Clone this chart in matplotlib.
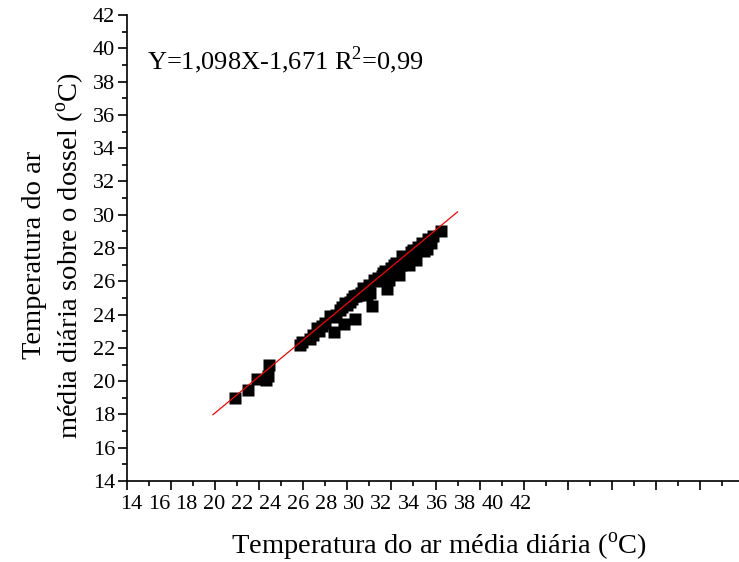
"""Air temperature over the canopy vs. daily mean air temperature."""

import matplotlib
matplotlib.use("Agg")
import matplotlib.pyplot as plt
import numpy as np

plt.rcParams["font.family"] = ["Liberation Serif", "DejaVu Serif"]
plt.rcParams["mathtext.fontset"] = "custom"
plt.rcParams["mathtext.rm"] = "Liberation Serif"

# daily means (deg C)
air_temp = [18.9, 19.5, 19.9, 20.3, 20.4, 20.45, 21.85, 21.95, 22.3, 22.45,
            22.7, 22.85, 23.0, 23.4, 23.35, 23.5, 23.65, 23.75, 23.85, 24.0,
            24.1, 24.2, 24.35, 24.4, 24.5, 24.6, 24.75, 24.85, 25.0, 25.05,
            25.1, 25.3, 25.4, 25.55, 25.7, 25.8, 25.85, 26.0, 26.1, 26.2,
            26.35, 26.45, 26.6, 26.75, 26.9, 27.1, 27.2, 27.35, 27.5, 27.65,
            27.8, 28.25,
            22.6, 23.2, 23.9, 24.3, 24.7, 25.2, 25.6, 26.1, 26.5, 27.0,
            27.4, 27.9, 24.9, 25.9, 26.8, 27.6]
canopy_temp = [19.0, 19.45, 20.1, 20.05, 20.3, 20.95, 22.2, 22.35, 22.55, 22.8,
               23.0, 23.3, 23.5, 22.95, 23.85, 24.0, 24.3, 24.45, 23.45, 24.6,
               24.75, 24.95, 23.75, 25.1, 25.2, 25.3, 25.45, 25.55, 25.75, 25.3,
               24.5, 26.0, 26.2, 26.3, 26.6, 25.55, 26.45, 26.8, 26.55, 27.1,
               26.35, 27.0, 27.35, 27.25, 27.75, 27.3, 28.05, 27.95, 27.8, 28.55,
               28.3, 29.05,
               23.2, 23.9, 24.7, 25.1, 25.6, 26.1, 26.5, 27.0, 27.5, 27.9,
               28.3, 28.7, 25.2, 26.1, 27.0, 27.95]

fit_slope = 1.098
fit_intercept = -1.671
fit_range = [17.9, 29.0]

x_tick_values = list(range(14, 43, 2))
y_tick_values = list(range(14, 43, 2))

fig = plt.figure(figsize=(7.39, 5.62), dpi=100)
ax = fig.add_axes([127 / 739, 1 - 481 / 562, 617 / 739, 466 / 562])

ax.plot(air_temp, canopy_temp, "s", color="black", ms=8.5, mec="none", zorder=2)
fit_x = np.array(fit_range)
ax.plot(fit_x, fit_slope * fit_x + fit_intercept, color="red", lw=0.9, zorder=3)

ax.set_xlim(14, 42)
ax.set_ylim(14, 42)
for side in ("top", "right"):
    ax.spines[side].set_visible(False)
for side in ("left", "bottom"):
    ax.spines[side].set_linewidth(1.2)

ax.set_xticks(x_tick_values)
ax.set_xticks(np.arange(15, 42, 2), minor=True)
ax.set_yticks(y_tick_values)
ax.set_yticks(np.arange(15, 42, 2), minor=True)
ax.tick_params(which="major", direction="out", length=6.5, width=1.2, labelsize=16, pad=2)
ax.tick_params(which="minor", direction="out", length=3.5, width=1.2)
ax.tick_params(axis="x", which="major", labelbottom=False)

# the x tick labels sit compressed under the axis, as in the original export
label_start, label_step = 14.18, 0.6316
sec = ax.secondary_xaxis(
    "bottom",
    functions=(lambda x: 14 + (x - label_start) / label_step,
               lambda v: label_start + (v - 14) * label_step),
)
sec.spines["bottom"].set_visible(False)
sec.set_xticks(x_tick_values)
sec.tick_params(length=0, labelsize=16, pad=10)

ax.set_xlabel(r"Temperatura do ar média diária ($^{\rm o}$C)", fontsize=20.5)
ax.xaxis.set_label_coords(0.505, -0.108)
ax.set_ylabel("Temperatura do ar\n" + r"média diária sobre o dossel ($^{\rm o}$C)",
              fontsize=20.5, linespacing=1.3)
ax.yaxis.set_label_coords(-0.067, 0.485)

ax.text(0.032, 0.903, r"Y=1,098X-1,671 R$^{2}$=0,99", transform=ax.transAxes,
        fontsize=19, va="center", ha="left")

fig.savefig("out.png", dpi=100)
